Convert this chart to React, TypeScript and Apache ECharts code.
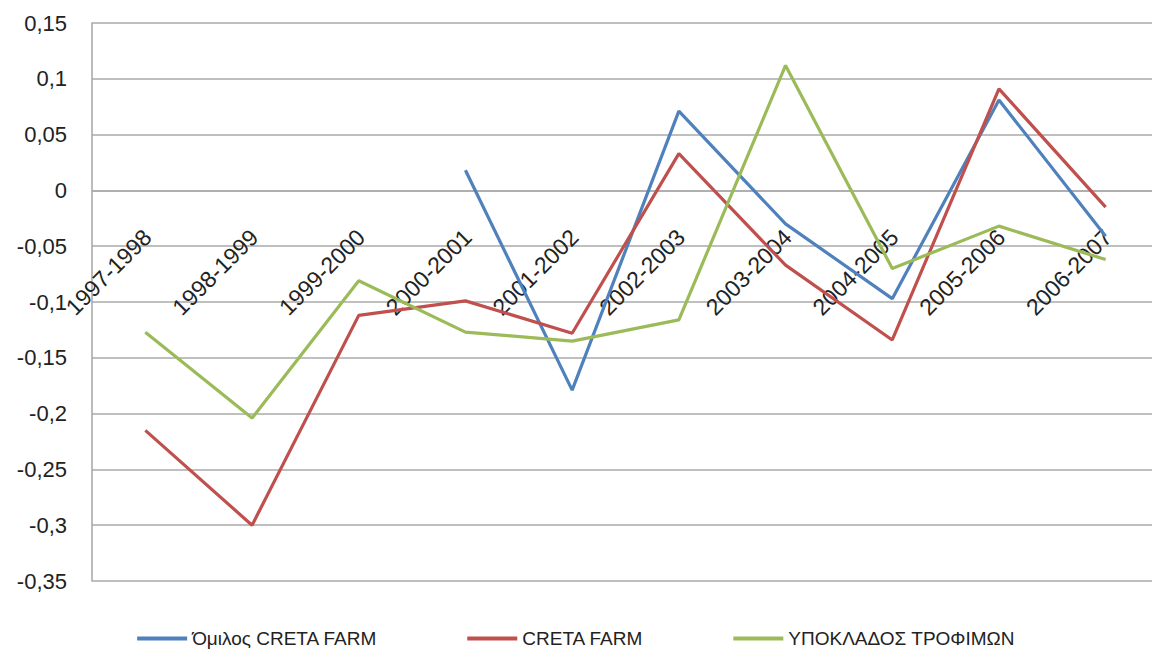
import React, { useEffect, useRef } from "react";
import * as echarts from "echarts";

const categories = [
  "1997-1998", "1998-1999", "1999-2000", "2000-2001", "2001-2002",
  "2002-2003", "2003-2004", "2004-2005", "2005-2006", "2006-2007",
];
const groupValues = [null, null, null, 0.018, -0.179, 0.071, -0.03, -0.097, 0.081, -0.041];
const cretaValues = [-0.215, -0.3, -0.112, -0.099, -0.128, 0.033, -0.067, -0.134, 0.091, -0.015];
const sectorValues = [-0.127, -0.204, -0.081, -0.127, -0.135, -0.116, 0.112, -0.07, -0.032, -0.062];
const seriesNames = ["Όμιλος CRETA FARM", "CRETA FARM", "ΥΠΟΚΛΑΔΟΣ ΤΡΟΦΙΜΩΝ"];
const colors = ["#4F81BD", "#C0504D", "#9BBB59"];

const Y_MIN = -0.35;
const Y_MAX = 0.15;
const GRID_H = 558;

export default function App() {
  const ref = useRef<HTMLDivElement>(null);
  useEffect(() => {
    document.body.style.margin = "0";
    if (!ref.current) return;
    const chart = echarts.init(ref.current, null, { renderer: "svg" });
    const data = [groupValues, cretaValues, sectorValues];
    const zeroOffset = -((0 - Y_MIN) / (Y_MAX - Y_MIN)) * GRID_H;
    chart.setOption({
      animation: false,
      backgroundColor: "#ffffff",
      grid: { left: 92, top: 23, width: 1067, height: GRID_H, containLabel: false, outerBoundsMode: "none" },
      legend: {
        left: "center",
        top: 624,
        itemWidth: 50,
        itemHeight: 4,
        itemGap: 90,
        icon: "rect",
        textStyle: { fontFamily: "Liberation Sans, Arial, sans-serif", fontSize: 19, color: "#222" },
        data: seriesNames,
      },
      xAxis: {
        type: "category",
        data: categories,
        boundaryGap: true,
        offset: zeroOffset,
        axisLine: { show: true, onZero: false, lineStyle: { color: "#aaaaaa", width: 1.5 } },
        axisTick: { show: false },
        axisLabel: {
          interval: 0,
          rotate: 45,
          margin: 45,
          padding: [0, -3, 0, 0],
          fontFamily: "Liberation Sans, Arial, sans-serif",
          fontSize: 23,
          color: "#222",
        },
      },
      yAxis: {
        type: "value",
        min: Y_MIN,
        max: Y_MAX,
        interval: 0.05,
        axisLine: { show: true, lineStyle: { color: "#a6a6a6", width: 1.5 } },
        axisTick: { show: false },
        splitLine: { show: true, lineStyle: { color: "#aaaaaa", width: 1.5 } },
        axisLabel: {
          margin: 25,
          fontFamily: "Liberation Sans, Arial, sans-serif",
          fontSize: 22,
          color: "#222",
          formatter: (v: number) => String(Math.round(v * 100) / 100).replace(".", ","),
        },
      },
      series: seriesNames.map((name, i) => ({
        name,
        type: "line",
        data: data[i],
        connectNulls: false,
        symbol: "none",
        lineStyle: { color: colors[i], width: 3.2 },
        itemStyle: { color: colors[i] },
      })),
    });
    return () => chart.dispose();
  }, []);
  return <div ref={ref} style={{ width: 1152, height: 650 }} />;
}
